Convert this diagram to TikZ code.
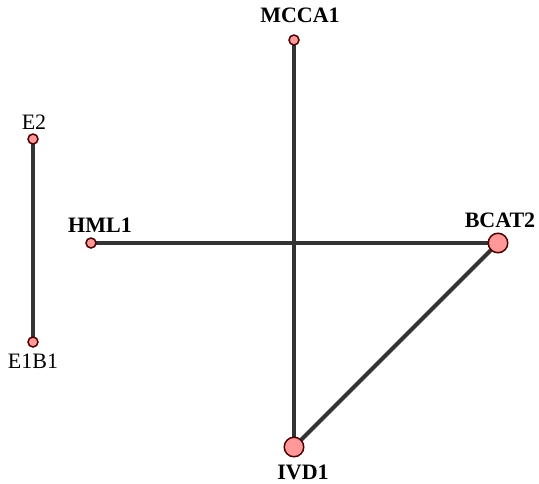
\documentclass[tikz,border=0pt]{standalone}
\usepackage{fontspec}
\setmainfont{Liberation Serif}
\usetikzlibrary{backgrounds}
\definecolor{edge}{HTML}{333333}
\definecolor{vfill}{HTML}{FF9999}
\definecolor{vline}{HTML}{4D0000}
\tikzset{
  vsmall/.style={circle, draw=vline, fill=vfill, line width=1.5pt,
                 minimum size=10pt, inner sep=0pt},
  vbig/.style={vsmall, minimum size=19.5pt},
  ed/.style={draw=edge, line width=4pt},
  lab/.style={font=\fontsize{22}{25}\selectfont, anchor=base, inner sep=0pt,
              text depth=0pt},
  labb/.style={lab, font=\fontsize{22}{25}\selectfont\bfseries}
}

\begin{document}
\begin{tikzpicture}[x=1pt, y=-1pt]
  \useasboundingbox (0,0) rectangle (539,483);
  % vertices
  \node[vsmall] (e2) at (33,139) {};
  \node[vsmall] (e1b1) at (33,342) {};
  \node[vsmall] (hml1) at (91,243) {};
  \node[vbig] (bcat2) at (498,243) {};
  \node[vsmall] (mcca1) at (294,40) {};
  \node[vbig] (ivd1) at (294,447) {};

  % labels
  \node[lab] (e2l) at (34,129) {E2};
  \node[lab] (e1b1l) at (33,368) {E1B1};
  \node[labb] (hml1l) at (100,232) {HML1};
  \node[labb] (bcat2l) at (500,227) {BCAT2};
  \node[labb] (mcca1l) at (300,22) {MCCA1};
  \node[labb] (ivd1l) at (303,479) {IVD1};

  % edges
  \begin{scope}[on background layer]
    \foreach \a/\b in {e2/e1b1,hml1/bcat2,mcca1/ivd1,bcat2/ivd1}
      \draw[ed] (\a.center) -- (\b.center);
  \end{scope}
\end{tikzpicture}
\end{document}
